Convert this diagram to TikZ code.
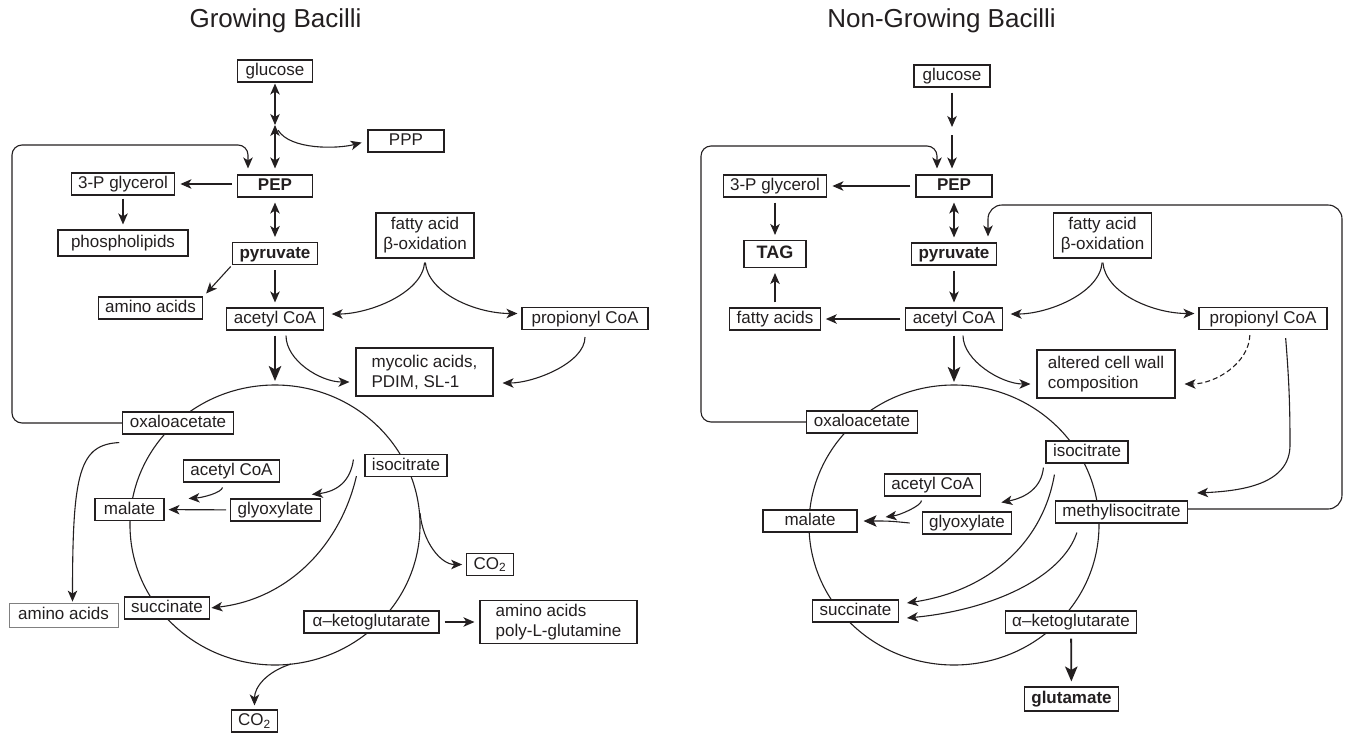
\documentclass[tikz,border=0pt]{standalone}
\usepackage{fontspec}
\setmainfont{Liberation Sans}
\usetikzlibrary{arrows.meta}
\definecolor{ink}{HTML}{231F20}
\newcommand{\lblfont}{\fontsize{17}{20}\selectfont}
\newcommand{\ttlfont}{\fontsize{26}{30}\selectfont}

\begin{document}
\begin{tikzpicture}[x=1pt, y=-1pt,
    lbl/.style={draw=ink, fill=white, line width=1.1pt, text=ink, font=\lblfont, inner xsep=7pt, inner ysep=2pt},
    box/.style={lbl, minimum height=22pt, text height=12.5pt, text depth=3.5pt},
    tbox/.style={lbl, align=left, inner ysep=4pt},
    arr/.style={draw=ink, line width=1.1pt, -{Stealth[length=11pt, width=9.5pt, inset=3pt]}, shorten >=5pt, shorten <=5pt},
    dbl/.style={arr, {Stealth[length=11pt, width=9.5pt, inset=3pt]}-{Stealth[length=11pt, width=9.5pt, inset=3pt]}},
    thk/.style={arr, line width=1.8pt, -{Stealth[length=15pt, width=12.5pt, inset=3.5pt]}},
    cyc/.style={draw=ink, line width=1.1pt},
    ttl/.style={text=ink, font=\ttlfont, anchor=base, inner sep=0pt}]
	\useasboundingbox (0,0) rectangle (1348,734);

		\begin{scope}
			\node[ttl] (ttlA) at (275.5,27) {Growing Bacilli};
			\draw[cyc] (275,525) ellipse [x radius=145pt, y radius=140pt];

			\node[box, minimum width=75pt] (glcA) at (275,71) {glucose};
			\node[box, minimum width=76pt] (pppA) at (406,141) {PPP};
			\node[box, minimum width=75pt] (pepA) at (275,186) {\bfseries PEP};
			\node[box] (glyA) at (123,184) {3-P glycerol};
			\node[box, minimum width=130pt, minimum height=26pt] (phoA) at (123,243) {phospholipids};
			\node[box] (pyrA) at (275,253.5) {\bfseries pyruvate};
			\node[box] (aaA1) at (150.5,308) {amino acids};
			\node[box] (acoA) at (275,319) {acetyl CoA};
			\node[tbox, align=center, minimum width=98pt, minimum height=45pt] (faoA) at (425,235.5) {fatty acid\\β-oxidation};
			\node[box, minimum width=126pt] (proA) at (585,318.5) {propionyl CoA};
			\node[tbox, minimum width=137pt, minimum height=48pt] (mycA) at (424.5,372) {mycolic acids,\\PDIM, SL-1};
			\node[box] (oxaA) at (178,423) {oxaloacetate};
			\node[box] (isoA) at (406,465.5) {isocitrate};
			\node[box] (acoA2) at (231.5,471) {acetyl CoA};
			\node[box, minimum width=69pt] (malA) at (129.5,509.5) {malate};
			\node[box] (glxA) at (275.5,510) {glyoxylate};
			\node[box] (sucA) at (167,608) {succinate};
			\node[box, minimum width=135pt] (akgA) at (371.5,622) {α–ketoglutarate};
			\node[box, draw=gray, line width=0.8pt, minimum width=109pt, minimum height=24pt] (aaA2) at (63.5,615) {amino acids};
			\node[box, minimum width=46pt] (co2A1) at (490,564.5) {CO\textsubscript{2}};
			\node[tbox, minimum width=157pt, minimum height=42pt] (aaA3) at (558.5,622) {amino acids\\poly-L-glutamine};
			\node[box, minimum width=46pt] (co2A2) at (254.5,721) {CO\textsubscript{2}};

			\coordinate (jA) at (275,125);
			\coordinate (topA) at (275,385);
			\coordinate (rimA) at (420,513);
			\coordinate (botA) at (291,664);

			\draw[dbl, shorten <=1pt, shorten >=0pt] (glcA) -- (jA);
			\draw[dbl, shorten <=0pt, shorten >=6pt] (jA) -- (pepA);
			\draw[arr, shorten <=6pt, shorten >=6pt] (jA) .. controls +(15,25) and +(-30,8) .. (pppA.west);
			\draw[arr] (pepA.west |- glyA) -- (glyA);
			\draw[arr, shorten <=3pt] (glyA) -- (phoA);
			\draw[dbl] (pepA) -- (pyrA);
			\draw[arr, shorten <=2pt, shorten >=4pt] (pyrA.south west) -- (aaA1.north east);
			\draw[arr] (pyrA) -- (acoA);
			\draw[arr, shorten <=4pt, shorten >=8pt] (faoA.south) .. controls +(-3,35) and +(45,0) .. ([yshift=5pt]acoA.east);
			\draw[arr, shorten <=4pt, shorten >=4pt] (faoA.south) .. controls +(3,35) and +(-45,0) .. ([yshift=5pt]proA.west);
			\draw[arr, shorten >=6pt] ([xshift=11pt]acoA.south) .. controls +(0,30) and +(-35,0) .. ([yshift=-10pt]mycA.west);
			\draw[arr, shorten <=7pt, shorten >=9pt] (proA.south) .. controls +(0,33) and +(40,0) .. ([yshift=-11pt]mycA.east);
			\draw[thk, shorten >=4pt] (acoA) -- (topA);
			\draw[arr, rounded corners=10pt, shorten <=0pt, shorten >=6pt] (oxaA.west) -| (12,145) -| ([xshift=-27pt]pepA.north);
			\draw[arr, shorten <=0pt, shorten >=1pt] ([shift={(-3,8)}]oxaA.south west) .. controls +(-40,2) and +(0,-130) .. ([xshift=9pt]aaA2.north);
			\draw[arr, shorten >=0pt] ([xshift=-8pt]acoA2.south) .. controls +(-2,10) and +(15,-1) .. ([shift={(24,-11)}]malA.east);
			\draw[arr, shorten <=4pt, shorten >=4pt] (glxA) -- (malA);
			\draw[arr, shorten <=0pt, shorten >=0pt] ([shift={(-11,-6)}]isoA.west) .. controls +(-3,22) and +(25,-3) .. ([shift={(-9,-4)}]glxA.north east);
			\draw[arr, shorten <=0pt, shorten >=1pt] ([shift={(-8,-1)}]isoA.south west) .. controls +(-16,69) and +(78,-9) .. (sucA.east);
			\draw[arr, shorten <=0pt, shorten >=4pt] (rimA) .. controls +(3,30) and +(-25,0) .. (co2A1.west);
			\draw[arr] (akgA) -- (aaA3);
			\draw[arr, shorten <=0pt, shorten >=4pt] (botA) .. controls +(-25,8) and +(0,-22) .. (co2A2.north);
		\end{scope}

		\begin{scope}
			\node[ttl] (ttlB) at (941.5,27) {Non-Growing Bacilli};
			\draw[cyc] (954,525) ellipse [x radius=145pt, y radius=140pt];

			\node[box, minimum width=76pt] (glcB) at (952,76) {glucose};
			\node[box, minimum width=76pt] (pepB) at (954,186) {\bfseries PEP};
			\node[box] (glyB) at (775,186) {3-P glycerol};
			\node[box, font={\fontsize{18}{20}\selectfont\bfseries}, minimum width=62pt, minimum height=27pt] (tagB) at (775,254) {TAG};
			\node[box] (pyrB) at (954,254) {\bfseries pyruvate};
			\node[box] (faB) at (775,319) {fatty acids};
			\node[box] (acoB) at (954,319) {acetyl CoA};
			\node[tbox, align=center, minimum width=98pt, minimum height=45pt] (faoB) at (1102.5,235.5) {fatty acid\\β-oxidation};
			\node[box, minimum width=128pt] (proB) at (1263,318.5) {propionyl CoA};
			\node[tbox, minimum width=138pt, minimum height=48pt] (altB) at (1106,374) {altered cell wall\\composition};
			\node[box] (oxaB) at (862,422) {oxaloacetate};
			\node[box] (isoB) at (1087,452) {isocitrate};
			\node[box] (acoB2) at (932.5,485) {acetyl CoA};
			\node[box, minimum width=94pt] (malB) at (810,521) {malate};
			\node[box] (glxB) at (967,523) {glyoxylate};
			\node[box] (mthB) at (1121.5,512) {methylisocitrate};
			\node[box] (sucB) at (855.5,611) {succinate};
			\node[box] (akgB) at (1071,622) {α–ketoglutarate};
			\node[box, minimum height=24pt] (gluB) at (1071.5,699) {\bfseries glutamate};

			\coordinate (jB) at (952,131);
			\coordinate (topB) at (954,386);
			\coordinate (kB) at (1290,445);

			\draw[arr, shorten >=4pt] (glcB) -- (jB);
			\draw[arr, shorten <=4pt, shorten >=6pt] (jB) -- (jB |- pepB.north);
			\draw[arr, rounded corners=10pt, shorten <=0pt, shorten >=6pt] (oxaB.west) -| (701,146) -| ([xshift=-17pt]pepB.north);
			\draw[arr] (pepB) -- (glyB);
			\draw[arr] (glyB) -- (tagB);
			\draw[arr] (faB) -- (tagB);
			\draw[dbl] (pepB) -- (pyrB);
			\draw[arr, rounded corners=14pt, shorten <=0pt, shorten >=6pt] ([yshift=3pt]mthB.east) -| (1342,205) -| ([xshift=34pt]pyrB.north);
			\draw[arr] (pyrB) -- (acoB);
			\draw[arr] (acoB) -- (faB);
			\draw[arr, shorten <=4pt, shorten >=8pt] (faoB.south) .. controls +(-3,35) and +(45,0) .. ([yshift=5pt]acoB.east);
			\draw[arr, shorten <=4pt, shorten >=4pt] (faoB.south) .. controls +(3,35) and +(-45,0) .. ([yshift=5pt]proB.west);
			\draw[arr, shorten >=6pt] ([xshift=9pt]acoB.south) .. controls +(0,30) and +(-35,0) .. ([yshift=-10pt]altB.west);
			\draw[arr, dash pattern=on 5pt off 3pt, shorten >=9pt] ([xshift=-13pt]proB.south) .. controls +(-1,33) and +(40,0) .. ([yshift=-10pt]altB.east);
			\draw[arr, shorten <=8pt, shorten >=0pt] ([xshift=22pt]proB.south) .. controls +(4,50) and +(0,-40) .. (kB) .. controls +(0,40) and +(43,-2) .. ([shift={(9,-19)}]mthB.east);
			\draw[thk, shorten >=4pt] (acoB) -- (topB);
			\draw[arr, shorten <=4pt, shorten >=0pt] ([xshift=-11pt]acoB2.south) .. controls +(0,9) and +(15,-2) .. ([shift={(28,-4)}]malB.east);
			\draw[arr, -{Stealth[length=13pt, width=11.5pt, inset=3pt]}, shorten <=0pt, shorten >=6pt] ([xshift=-12pt]glxB.west) .. controls +(-20,-2) .. (malB.east);
			\draw[arr, shorten <=0pt, shorten >=0pt] ([shift={(-2,4)}]isoB.south west) .. controls +(-2,20) and +(25,-5) .. ([shift={(-11,-9)}]glxB.north east);
			\draw[arr, shorten <=0pt, shorten >=0pt] ([shift={(9,11)}]isoB.south west) .. controls +(-12,70) and +(80,-12) .. ([shift={(8,-8)}]sucB.east);
			\draw[arr, shorten <=0pt, shorten >=0pt] ([shift={(22,9)}]mthB.south west) .. controls +(-15,45) and +(85,-8) .. ([shift={(8,7)}]sucB.east);
			\draw[thk] (akgB) -- (gluB);
		\end{scope}
	\end{tikzpicture}
\end{document}
